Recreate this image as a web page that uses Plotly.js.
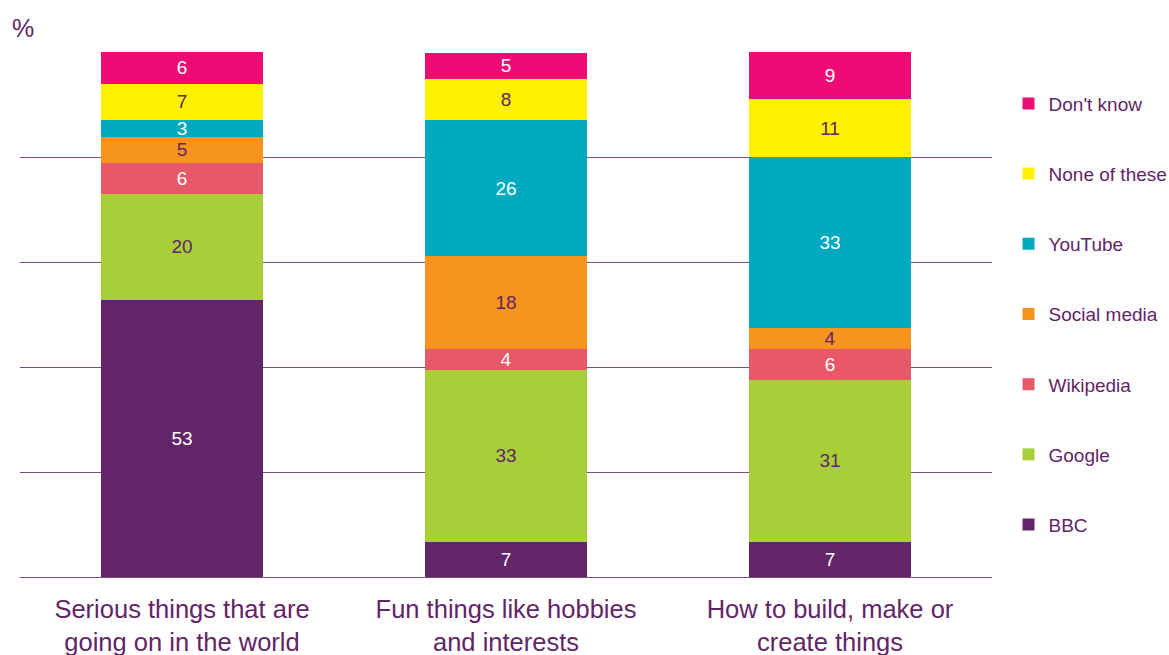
<!DOCTYPE html>
<html>
<head>
<meta charset="utf-8">
<script src="https://cdn.plot.ly/plotly-3.0.1.min.js"></script>
<style>html,body{margin:0;padding:0;background:#fff;}#chart{width:1169px;height:655px;}</style>
</head>
<body>
<div id="chart"></div>
<script>
var categories = ["Serious things that are<br>going on in the world", "Fun things like hobbies<br>and interests", "How to build, make or<br>create things"];

// Series values (%), bottom to top
var bbc        = [52.8, 6.7, 6.7];
var google     = [20.2, 32.7, 30.8];
var wikipedia  = [5.9, 4.0, 5.9];
var socialMedia= [5.0, 17.7, 4.1];
var youtube    = [3.2, 25.9, 32.5];
var noneOfThese= [6.9, 7.8, 11.0];
var dontKnow   = [6.1, 5.1, 9.0];

// Data labels as printed on the chart
var bbcLabels        = ["53", "7", "7"];
var googleLabels     = ["20", "33", "31"];
var wikipediaLabels  = ["6", "4", "6"];
var socialLabels     = ["5", "18", "4"];
var youtubeLabels    = ["3", "26", "33"];
var noneLabels       = ["7", "8", "11"];
var dontKnowLabels   = ["6", "5", "9"];

var seriesNames = ["BBC", "Google", "Wikipedia", "Social media", "YouTube", "None of these", "Don't know"];
var seriesValues = [bbc, google, wikipedia, socialMedia, youtube, noneOfThese, dontKnow];
var seriesLabels = [bbcLabels, googleLabels, wikipediaLabels, socialLabels, youtubeLabels, noneLabels, dontKnowLabels];
var seriesColors = ["#622567", "#A8CE38", "#E75869", "#F7941E", "#00AABE", "#FFF200", "#ED0C76"];
var labelColors  = ["#ffffff", "#622567", "#ffffff", "#622567", "#ffffff", "#622567", "#ffffff"];

var FONT = "Liberation Sans, Arial, sans-serif";
var PURPLE = "#622567";

var traces = seriesNames.map(function(name, i){
  return {
    type: "bar",
    name: name,
    x: categories,
    y: seriesValues[i],
    text: seriesLabels[i],
    textposition: "inside",
    insidetextanchor: "middle",
    constraintext: "none",
    textangle: 0,
    textfont: {family: FONT, size: 19, color: labelColors[i]},
    marker: {color: seriesColors[i], line: {width: 0}},
    legendgroup: "g" + i,
    legendrank: seriesNames.length - i,
    hoverinfo: "name+y"
  };
});

var layout = {
  width: 1169,
  height: 655,
  margin: {l: 20, r: 177, t: 52, b: 78, autoexpand: false},
  paper_bgcolor: "#ffffff",
  plot_bgcolor: "#ffffff",
  barmode: "stack",
  bargap: 0.497,
  font: {family: FONT, color: PURPLE},
  showlegend: true,
  legend: {
    x: 1.017, xanchor: "left",
    y: 0.938, yanchor: "top",
    traceorder: "grouped",
    tracegroupgap: 42.5,
    maxheight: 620,
    font: {family: FONT, size: 19, color: PURPLE},
    bgcolor: "rgba(0,0,0,0)"
  },
  xaxis: {
    type: "category",
    tickfont: {family: FONT, size: 25.5, color: PURPLE},
    ticklabelstandoff: 14,
    showline: false,
    ticks: "",
    showgrid: false,
    fixedrange: true
  },
  yaxis: {
    range: [0, 100],
    dtick: 20,
    tick0: 0,
    showticklabels: false,
    ticks: "",
    showgrid: true,
    gridcolor: "#7E4A81",
    gridwidth: 1,
    zeroline: true,
    zerolinecolor: "#7E4A81",
    zerolinewidth: 1,
    showline: false,
    fixedrange: true
  },
  annotations: [{
    text: "%",
    xref: "paper", yref: "paper",
    x: -0.01, y: 1.0,
    xanchor: "left", yanchor: "bottom",
    yshift: 8,
    showarrow: false,
    font: {family: FONT, size: 25, color: PURPLE}
  }]
};

Plotly.newPlot("chart", traces, layout, {displayModeBar: false, staticPlot: true});
</script>
</body>
</html>
